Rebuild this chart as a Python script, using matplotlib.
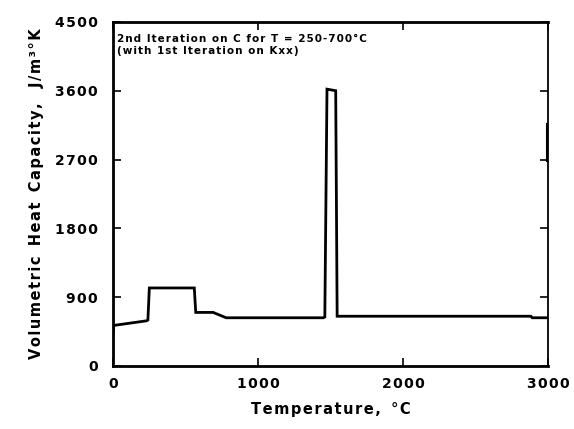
import matplotlib
matplotlib.use("Agg")
import matplotlib.pyplot as plt

temp = [0, 5, 230, 240, 250, 560, 570, 690, 780, 1450, 1460, 1475, 1535, 1545, 2880, 2890, 3000]
cap = [420, 530, 590, 600, 1020, 1020, 700, 700, 630, 630, 640, 3620, 3600, 650, 650, 630, 630]
art_t = [2995, 2995]
art_c = [2680, 3170]

xticks = [0, 1000, 2000, 3000]
yticks = [0, 900, 1800, 2700, 3600, 4500]

HS = '\u200a'


def sp(s):
    return HS.join(s)


plt.rcParams['font.family'] = ['DejaVu Sans']
fig = plt.figure(figsize=(5.74, 4.29), dpi=100)
ax = fig.add_axes([0.197, 0.147, 0.758, 0.802])
ax.plot(temp, cap, color='black', lw=2.0, solid_joinstyle='miter')
ax.plot(art_t, art_c, color='black', lw=1.5, clip_on=False)
ax.set_xlim(0, 3000)
ax.set_ylim(0, 4500)
ax.set_xticks(xticks)
ax.set_yticks(yticks)
ax.set_xticklabels([sp(str(v)) for v in xticks], fontsize=10, fontweight='bold')
ax.set_yticklabels([sp(str(v)) for v in yticks], fontsize=10, fontweight='bold')
ax.tick_params(direction='in', top=True, right=True, length=6, width=1.2)
ax.tick_params(axis='x', pad=8)
ax.tick_params(axis='y', pad=11)
for s in ['top', 'left', 'bottom']:
    ax.spines[s].set_linewidth(2.0)
ax.spines['right'].set_linewidth(1.3)
ax.set_xlabel(sp('Temperature,') + '  ' + sp('°C'), fontsize=10.5, fontweight='bold', labelpad=8)
ax.set_ylabel(sp('Volumetric') + '  ' + sp('Heat') + '  ' + sp('Capacity,') + '   ' + sp('J/m³°K'),
              fontsize=10.5, fontweight='bold', labelpad=8)
ax.text(0.01, 0.965, sp('2nd Iteration on C for T = 250-700°C') + '\n' + sp('(with 1st Iteration on Kxx)'),
        transform=ax.transAxes, fontsize=7.5, fontweight='bold', va='top', ha='left', linespacing=1.3)
fig.savefig('out.png', dpi=100)
